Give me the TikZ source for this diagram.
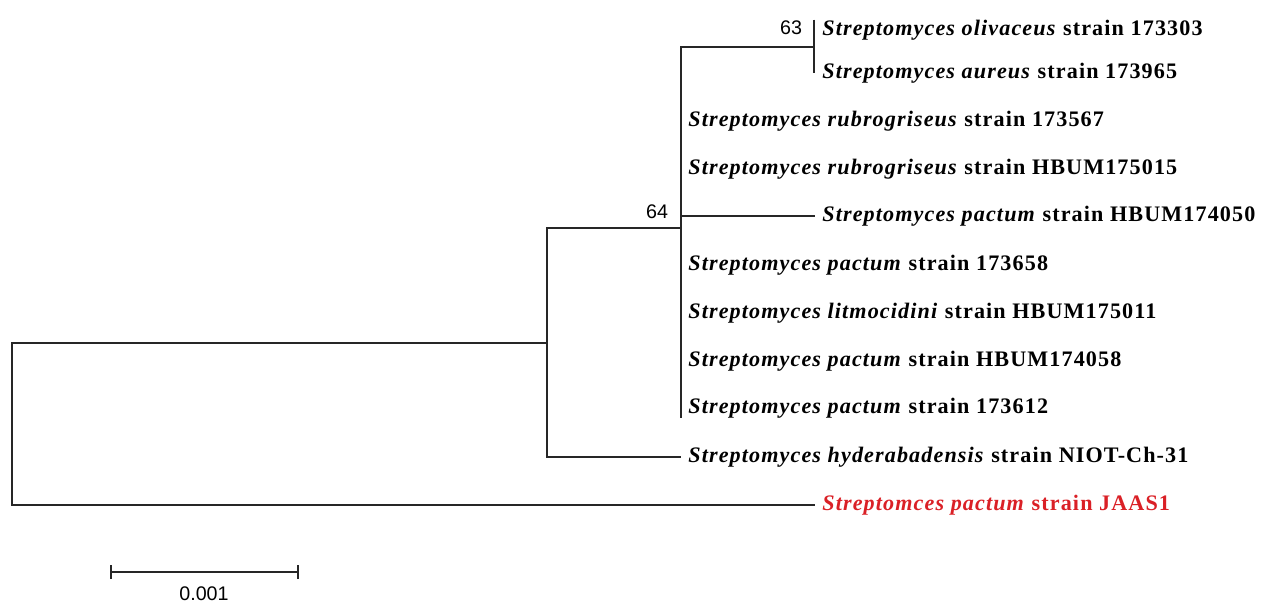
\documentclass[tikz,border=0pt]{standalone}
\usepackage{fontspec}
\setmainfont{Liberation Serif}
\newfontfamily\leaffont[LetterSpace=5]{Liberation Serif}
\newfontfamily\numfont{Liberation Sans}
\definecolor{jaasred}{RGB}{218,32,38}
\newcommand{\strep}[2]{\textit{Streptomyces #1} strain #2}
\tikzset{
  branch/.style={line width=1.1pt,black!85},
  leaf/.style={anchor=west,inner sep=0pt,font=\leaffont\bfseries\fontsize{12.6}{14}\selectfont},
  boot/.style={inner sep=0pt,font=\numfont\fontsize{11.2}{13}\selectfont},
}
\begin{document}
\begin{tikzpicture}[x=0.02cm,y=-0.02cm]
  \useasboundingbox (0,0) rectangle (1266,603);
  % leaves
  \node[leaf] (oliv) at (822,30) {\strep{olivaceus}{173303}};
  \node[leaf] (aur) at (822,73) {\strep{aureus}{173965}};
  \node[leaf] (rub1) at (688,121) {\strep{rubrogriseus}{173567}};
  \node[leaf] (rub2) at (688,169) {\strep{rubrogriseus}{HBUM175015}};
  \node[leaf] (pac1) at (822,216) {\strep{pactum}{HBUM174050}};
  \node[leaf] (pac2) at (688,265) {\strep{pactum}{173658}};
  \node[leaf] (lit) at (688,313) {\strep{litmocidini}{HBUM175011}};
  \node[leaf] (pac3) at (688,361) {\strep{pactum}{HBUM174058}};
  \node[leaf] (pac4) at (688,408) {\strep{pactum}{173612}};
  \node[leaf] (hyd) at (688,457) {\strep{hyderabadensis}{NIOT-Ch-31}};
  \node[leaf,text=jaasred] (jaas) at (822,505) {\textit{Streptomces pactum} strain JAAS1};
  % inner nodes
  \coordinate (root) at (12,424);
  \coordinate (n1) at (547,343);
  \coordinate (n2) at (681,228);
  \coordinate (n3) at (814,47);
  % branches
  \draw[branch] (n1) -| (root) |- ([xshift=-4pt]jaas.west);
  \draw[branch] (n2) -| (n1) |- ([xshift=-4pt]hyd.west);
  \draw[branch] (n3) -| (n2 |- pac4.south);
  \draw[branch] (n2 |- pac1) -- ([xshift=-4pt]pac1.west);
  \draw[branch] (n3 |- oliv.north) -- (n3 |- aur);
  % bootstrap values
  \node[boot] (b63) at (791,28) {63};
  \node[boot] (b64) at (657,212) {64};
  % scale bar
  \coordinate (sa) at (111,572);
  \coordinate (sb) at (298,572);
  \draw[branch] (sa) -- (sb);
  \draw[branch] ([yshift=-4pt]sa) -- ([yshift=4pt]sa);
  \draw[branch] ([yshift=-4pt]sb) -- ([yshift=4pt]sb);
  \node[boot] (scale) at (204,594) {0.001};
\end{tikzpicture}
\end{document}
